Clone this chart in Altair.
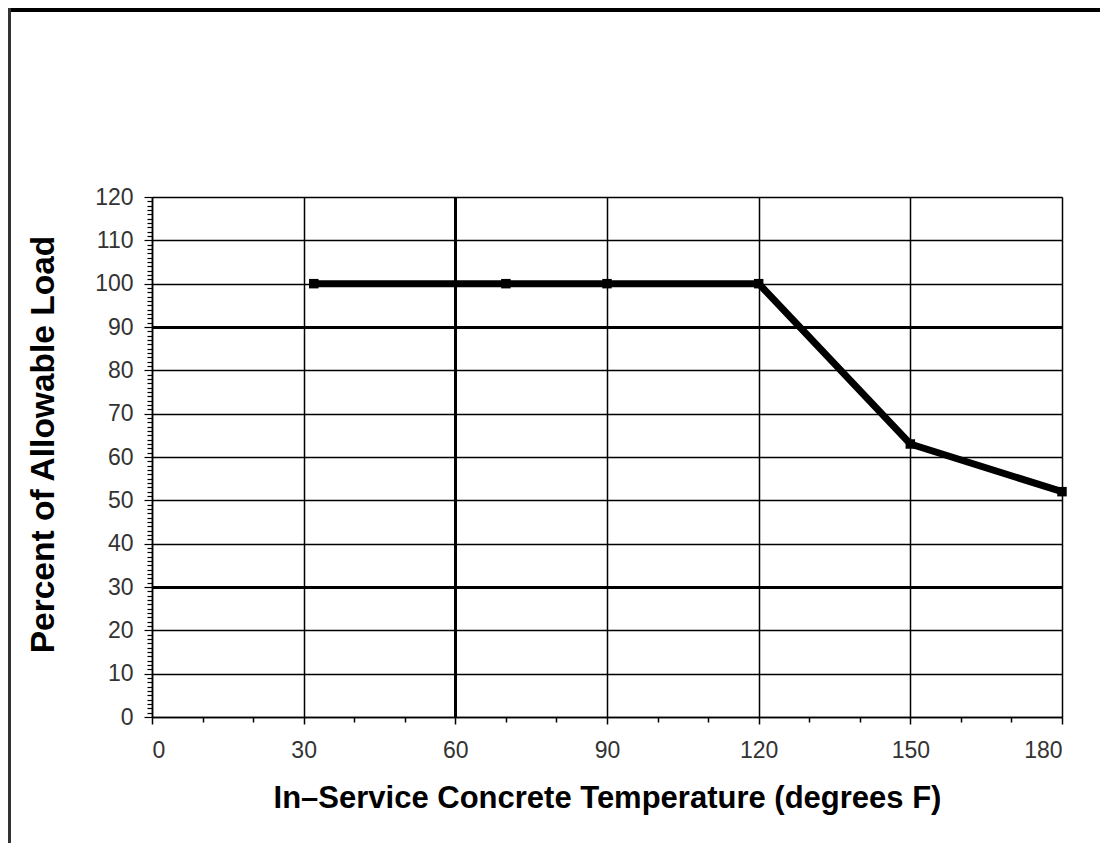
import altair as alt
import pandas as pd

temps = [32, 70, 90, 120, 150, 180]
loads = [100, 100, 100, 100, 63, 52]

x_ticks = list(range(0, 181, 10))
y_ticks = list(range(0, 121, 1))

df = pd.DataFrame({"temp": temps, "load": loads})

FONT = "Liberation Sans"

x_axis = alt.Axis(
    values=x_ticks,
    labelExpr="datum.value % 30 == 0 ? datum.label : ''",
    labelFont=FONT, labelFontSize=23, labelColor="#333", labelPadding=15,
    labelOverlap=False,
    tickSize={"condition": {"test": "datum.value % 30 == 0", "value": 7}, "value": 5},
    tickColor="black", tickWidth=1.5,
    grid=True,
    gridColor="black",
    gridOpacity={"condition": {"test": "datum.value % 30 == 0", "value": 1}, "value": 0},
    gridWidth={"condition": {"test": "datum.value == 60", "value": 3}, "value": 1.5},
    domainColor="black", domainWidth=1.5,
    title="In\u2013Service Concrete Temperature (degrees F)",
    titleFont=FONT, titleFontSize=31, titleFontWeight="bold", titleColor="black",
    titlePadding=21,
)

y_axis = alt.Axis(
    values=y_ticks,
    labelExpr="datum.value % 10 == 0 ? datum.label : ''",
    labelFont=FONT, labelFontSize=23, labelColor="#333", labelPadding=11,
    labelOverlap=False,
    tickSize={"condition": {"test": "datum.value % 10 == 0", "value": 8}, "value": 5},
    tickColor="black", tickWidth=1.2,
    grid=True,
    gridColor="black",
    gridOpacity={"condition": {"test": "datum.value % 10 == 0", "value": 1}, "value": 0},
    gridWidth={"condition": {"test": "datum.value == 30 || datum.value == 90", "value": 3}, "value": 1.5},
    domainColor="black", domainWidth=1.5,
    title="Percent of Allowable Load",
    titleFont=FONT, titleFontSize=33.5, titleFontWeight="bold", titleColor="black",
    titlePadding=34, titleY=247,
)

line = alt.Chart(df).mark_line(
    color="black", strokeWidth=7,
    point=alt.OverlayMarkDef(shape="square", size=90, filled=True, color="black"),
).encode(
    x=alt.X("temp:Q", scale=alt.Scale(domain=[0, 180], nice=False), axis=x_axis),
    y=alt.Y("load:Q", scale=alt.Scale(domain=[0, 120], nice=False), axis=y_axis),
)

frame_top = alt.Chart(df).mark_rule(color="black", strokeWidth=4).encode(
    x=alt.value(-144), x2=alt.value(954), y=alt.value(-187)
)
frame_left = alt.Chart(df).mark_rule(color="#333", strokeWidth=3).encode(
    x=alt.value(-142.5), y=alt.value(-189), y2=alt.value(650)
)

chart = alt.layer(frame_top, frame_left, line).properties(
    width=910, height=520,
    autosize=alt.AutoSizeParams(type="none"),
    padding={"left": 144, "top": 189, "right": 38, "bottom": 126},
).configure_view(stroke=None).configure(background="white")

chart.save("out.html", embed_options={"renderer": "svg", "actions": False})
